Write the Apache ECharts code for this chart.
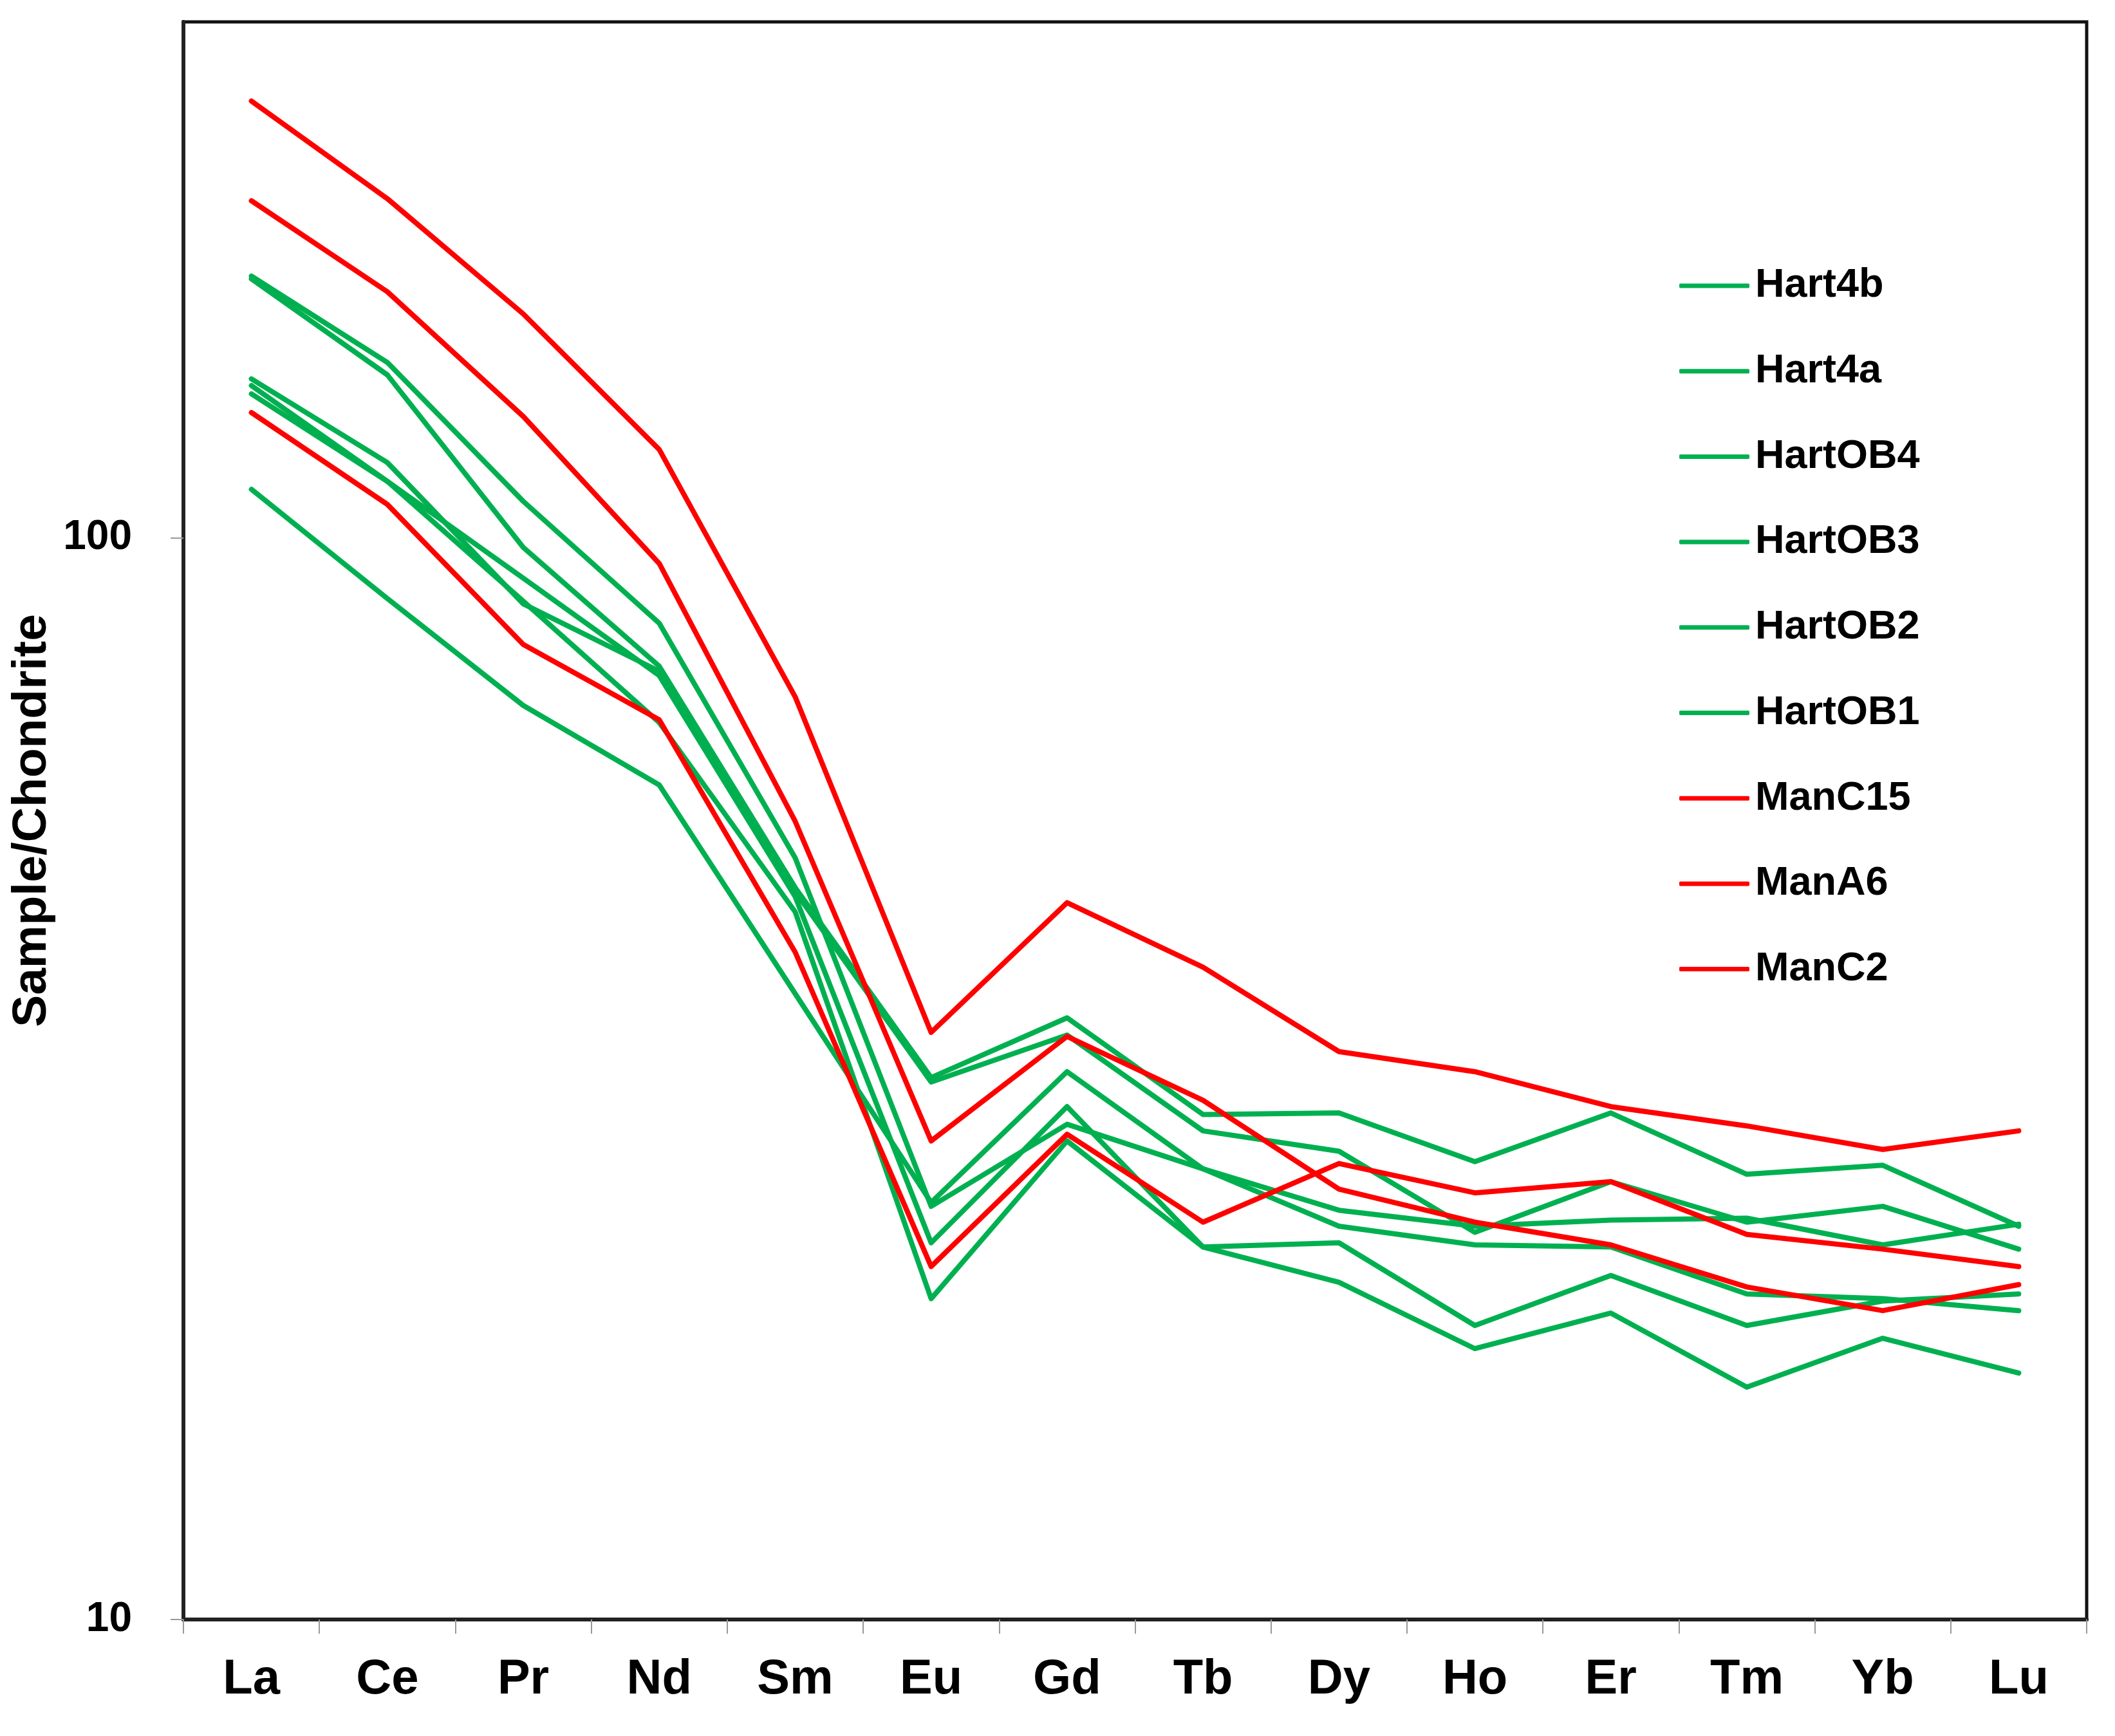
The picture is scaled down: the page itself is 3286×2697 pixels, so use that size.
<!DOCTYPE html>
<html>
<head>
<meta charset="utf-8">
<style>
  html, body { margin: 0; padding: 0; background: #ffffff; }
  #chart { width: 3286px; height: 2697px; }
</style>
<script src="https://cdn.jsdelivr.net/npm/echarts@6.0.0/dist/echarts.min.js"></script>
</head>
<body>
<div id="chart"></div>
<script>
// ---- Data ----
const elements = ['La', 'Ce', 'Pr', 'Nd', 'Sm', 'Eu', 'Gd', 'Tb', 'Dy', 'Ho', 'Er', 'Tm', 'Yb', 'Lu'];
const yTickValues = [10, 100];

const hart4b  = [174.6, 145.3, 108.1, 83.4, 50.6, 24.1, 28.7, 26.1, 23.1, 22.2, 22.1, 20.0, 19.8, 19.3];
const hart4a  = [173.6, 141.5, 98.0, 76.1, 47.5, 31.7, 36.0, 29.3, 29.4, 26.5, 29.4, 25.8, 26.3, 23.1];
const hartOB4 = [140.3, 117.4, 86.9, 75.3, 47.1, 31.4, 34.7, 28.3, 27.1, 22.8, 25.4, 23.3, 24.1, 22.0];
const hartOB3 = [138.3, 112.8, 91.8, 74.6, 46.6, 22.3, 29.8, 22.1, 22.3, 18.7, 20.8, 18.7, 19.7, 20.0];
const hartOB2 = [135.9, 112.8, 87.4, 67.5, 45.1, 19.8, 27.7, 22.1, 20.5, 17.8, 19.2, 16.4, 18.2, 16.9];
const hartOB1 = [110.9, 87.9, 70.0, 59.1, 37.9, 24.3, 32.1, 26.1, 23.9, 23.1, 23.4, 23.5, 22.2, 23.2];
const manC15  = [253.5, 205.9, 161.1, 120.7, 71.3, 34.9, 46.0, 40.1, 33.5, 32.1, 29.8, 28.6, 27.2, 28.3];
const manA6   = [205.0, 168.9, 129.5, 94.7, 54.7, 27.7, 34.6, 30.2, 25.0, 23.3, 22.2, 20.3, 19.3, 20.4];
const manC2   = [130.6, 107.4, 79.7, 67.9, 41.4, 21.2, 28.1, 23.3, 26.4, 24.8, 25.4, 22.7, 22.0, 21.2];

const seriesNames = ['Hart4b', 'Hart4a', 'HartOB4', 'HartOB3', 'HartOB2', 'HartOB1', 'ManC15', 'ManA6', 'ManC2'];
const seriesValues = [hart4b, hart4a, hartOB4, hartOB3, hartOB2, hartOB1, manC15, manA6, manC2];
const seriesGroup = ['green', 'green', 'green', 'green', 'green', 'green', 'red', 'red', 'red'];

// ---- Styles ----
const GREEN = '#00B050';
const RED = '#FF0000';
const FONT = '"Liberation Sans", Arial, Helvetica, sans-serif';

const chart = echarts.init(document.getElementById('chart'), null, { renderer: 'canvas' });

const series = seriesNames.map((name, i) => {
  const c = seriesGroup[i] === 'green' ? GREEN : RED;
  return {
    name: name,
    type: 'line',
    data: seriesValues[i],
    symbol: 'none',
    smooth: false,
    color: c,
    lineStyle: { color: c, width: 8, join: 'round', cap: 'round' },
    itemStyle: { color: c },
    emphasis: { disabled: true },
    z: seriesGroup[i] === 'green' ? 2 : 3
  };
});

const option = {
  animation: false,
  backgroundColor: '#ffffff',
  grid: {
    left: 285, right: 44, top: 34, bottom: 181,
    containLabel: false,
    outerBoundsMode: 'none',
    show: true, borderColor: '#111', borderWidth: 5, backgroundColor: 'transparent'
  },
  legend: {
    orient: 'vertical',
    left: 2609,
    top: 412,
    padding: 0,
    itemWidth: 109,
    itemHeight: 7,
    itemGap: 68.7,
    icon: 'roundRect',
    selectedMode: false,
    textStyle: { fontSize: 63, fontWeight: 'bold', color: '#000', fontFamily: FONT, lineHeight: 64, padding: [0, 0, 0, 4] },
    data: seriesNames
  },
  xAxis: {
    type: 'category',
    data: elements,
    boundaryGap: true,
    axisLine: { show: true, lineStyle: { color: '#222', width: 6 } },
    axisTick: { show: true, length: 22, lineStyle: { color: '#999', width: 2 } },
    axisLabel: { color: '#000', fontSize: 76, fontWeight: 'bold', fontFamily: FONT, margin: 56 },
    splitLine: { show: false }
  },
  yAxis: {
    type: 'log',
    logBase: 10,
    min: 10,
    max: 300,
    axisLine: { show: true, lineStyle: { color: '#222', width: 6 } },
    axisTick: { show: true, length: 20, lineStyle: { color: '#999', width: 2 }, customValues: yTickValues },
    axisLabel: {
      color: '#000', fontSize: 64, fontWeight: 'bold', fontFamily: FONT, margin: 80,
      customValues: yTickValues,
      formatter: function (v) { return yTickValues.indexOf(Math.round(v)) >= 0 ? String(Math.round(v)) : ''; }
    },
    splitLine: { show: false },
    minorTick: { show: false },
    name: 'Sample/Chondrite',
    nameLocation: 'middle',
    nameGap: 183,
    nameTextStyle: { color: '#000', fontSize: 75, fontWeight: 'bold', fontFamily: FONT }
  },
  series: series
};

chart.setOption(option);
</script>
</body>
</html>
